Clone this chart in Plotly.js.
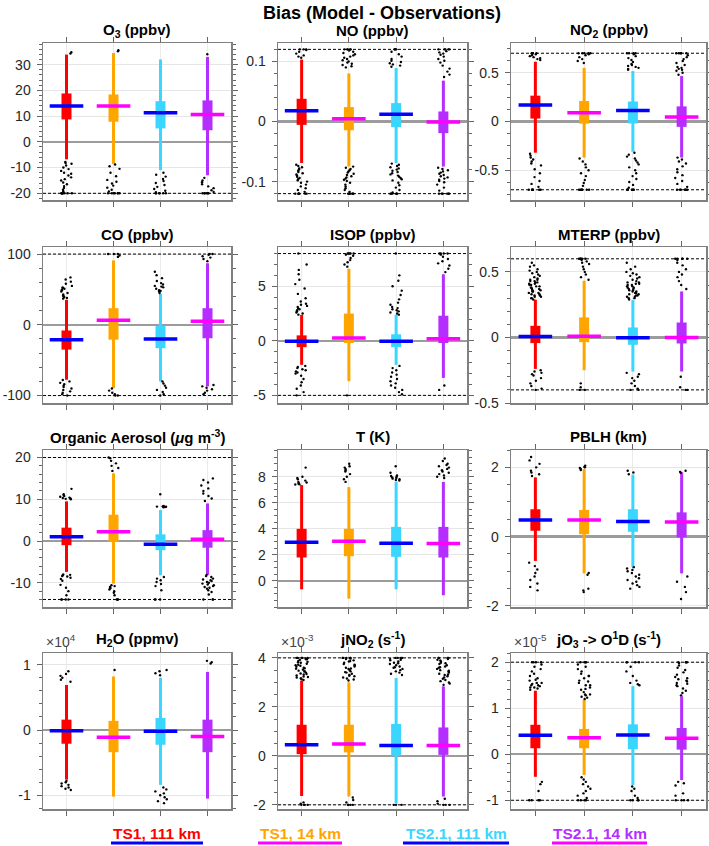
<!DOCTYPE html>
<html><head><meta charset="utf-8">
<script src="https://cdn.plot.ly/plotly-3.0.1.min.js"></script>
<style>html,body{margin:0;padding:0;background:#fff}#chart{width:709px;height:846px}</style>
</head><body><div id="chart"></div>
<script>
// ---------------- DATA ----------------
const models = ['TS1, 111 km', 'TS1, 14 km', 'TS2.1, 111 km', 'TS2.1, 14 km'];
const panelTitles = ['O<sub>3</sub> (ppbv)', 'NO (ppbv)', 'NO<sub>2</sub> (ppbv)',
  'CO (ppbv)', 'ISOP (ppbv)', 'MTERP (ppbv)',
  'Organic Aerosol (<i>μ</i>g m<sup>-3</sup>)', 'T (K)', 'PBLH (km)',
  'H<sub>2</sub>O (ppmv)', 'jNO<sub>2</sub> (s<sup>-1</sup>)', 'jO<sub>3</sub> -> O<sup>1</sup>D (s<sup>-1</sup>)'];
const exponentLabels = [null, null, null, null, null, null, null, null, null,
  '×10<sup>4</sup>', '×10<sup>-3</sup>', '×10<sup>-5</sup>'];
const mainTitle = 'Bias (Model - Observations)';

// per panel, per model: lower whisker, Q1, median, Q3, upper whisker
const whiskerLow = [
  [-6.8, -8.6, -11, -13], [-0.069, -0.075, -0.069, -0.075], [-0.32, -0.37, -0.31, -0.37],
  [-77.6, -89.4, -80, -87], [-2.2, -3.7, -2.2, -3.4], [-0.24, -0.25, -0.26, -0.26],
  [-7.4, -10.2, -8.2, -8.1], [-0.64, -1.36, -0.64, -1.1], [-0.7, -1.06, -0.87, -1.06],
  [-0.76, -1.02, -0.84, -1.05], [-1.64, -1.66, -1.94, -1.66], [-0.49, -0.45, -0.67, -0.56]];
const q1 = [
  [8.7, 7.8, 5.2, 4.5], [-0.0056, -0.0145, -0.0094, -0.0194], [0.03, -0.022, -0.02, -0.055],
  [-35, -21, -33, -19], [-0.58, -0.2, -0.58, -0.2], [-0.043, -0.036, -0.056, -0.046],
  [-1.0, -0.2, -2.2, -1.6], [1.8, 1.9, 1.85, 1.8], [0.17, 0.07, 0.14, -0.02],
  [-0.21, -0.34, -0.226, -0.34], [0.07, 0.14, 0.01, 0.04], [0.13, 0.13, 0.11, 0.1]];
const median = [
  [13.9, 13.9, 11.3, 10.6], [0.0178, 0.0044, 0.0122, -0.001], [0.168, 0.089, 0.113, 0.045],
  [-21, 6.5, -20, 5], [-0.04, 0.25, -0.04, 0.2], [0.008, 0.01, -0.003, 0.0],
  [1.0, 2.2, -0.8, 0.4], [2.97, 3.05, 2.9, 2.87], [0.48, 0.48, 0.44, 0.42],
  [-0.01, -0.11, -0.02, -0.1], [0.45, 0.48, 0.42, 0.42], [0.41, 0.36, 0.42, 0.35]];
const q3 = [
  [18.8, 18.4, 15.8, 16.1], [0.0378, 0.024, 0.0306, 0.0167], [0.265, 0.21, 0.205, 0.155],
  [-8, 23.5, -1.4, 23.5], [0.5, 2.5, 0.6, 2.3], [0.089, 0.153, 0.076, 0.114],
  [3.2, 6.3, 1.6, 2.6], [4.0, 4.0, 4.15, 4.15], [0.79, 0.77, 0.79, 0.7],
  [0.159, 0.14, 0.185, 0.159], [1.27, 1.27, 1.3, 1.16], [0.64, 0.55, 0.65, 0.57]];
const whiskerHigh = [
  [33.9, 34.5, 32, 33], [0.103, 0.08, 0.089, 0.068], [0.613, 0.55, 0.517, 0.466],
  [35.3, 91, 43.8, 87], [2.38, 6.6, 2.4, 6.1], [0.288, 0.433, 0.285, 0.351],
  [9.5, 16.2, 7.4, 9], [7.36, 7.2, 7.6, 7.6], [1.71, 1.95, 1.79, 1.86],
  [0.69, 0.82, 0.8, 0.89], [3.07, 3.0, 3.18, 2.84], [1.38, 1.19, 1.48, 1.26]];

// outliers (values clipped at the dashed limits)
const outO3 = [
  [34.3, 34.8, -7.8, -8.2, -8.5, -9.2, -10, -10.6, -11.3, -12, -12.4, -13.1, -13.8, -14.5, -15, -15.8, -16.5, -17.2, -17.9, -18.6, -19.2, -20, -20, -20, -20, -20, -20, -20, -20],
  [35.2, 35.6, -8.8, -9.5, -10.5, -12, -13.4, -14.8, -15.5, -16.2, -17, -17.8, -18.6, -19.3, -20, -20, -20, -20, -20, -20, -20],
  [-12, -12.8, -13.5, -14.4, -15.2, -16, -16.8, -17.5, -18.3, -19, -19.6, -20, -20, -20, -20, -20, -20],
  [34, -14, -15, -15.7, -16.5, -17.3, -18, -18.8, -19.5, -20, -20, -20, -20, -20, -20]];
const outNO = [
  [0.106, 0.108, 0.11, 0.113, 0.116, 0.119, 0.12, 0.12, 0.12, -0.072, -0.074, -0.076, -0.078, -0.08, -0.082, -0.084, -0.086, -0.088, -0.09, -0.092, -0.094, -0.096, -0.098, -0.1, -0.102, -0.105, -0.108, -0.111, -0.114, -0.117, -0.12, -0.12, -0.12, -0.12, -0.12, -0.12, -0.12],
  [0.09, 0.092, 0.094, 0.096, 0.098, 0.1, 0.102, 0.104, 0.106, 0.108, 0.11, 0.112, 0.114, 0.116, 0.118, 0.12, 0.12, 0.12, 0.12, 0.12, -0.075, -0.077, -0.079, -0.081, -0.083, -0.085, -0.087, -0.089, -0.091, -0.093, -0.095, -0.097, -0.099, -0.102, -0.105, -0.108, -0.111, -0.114, -0.117, -0.12, -0.12, -0.12, -0.12, -0.12, -0.12],
  [0.091, 0.093, 0.095, 0.097, 0.099, 0.101, 0.104, 0.108, 0.112, 0.116, 0.12, 0.12, 0.12, 0.12, -0.07, -0.072, -0.074, -0.076, -0.078, -0.08, -0.082, -0.084, -0.086, -0.088, -0.09, -0.092, -0.094, -0.096, -0.098, -0.102, -0.106, -0.11, -0.114, -0.118, -0.12, -0.12, -0.12, -0.12, -0.12, -0.12],
  [0.074, 0.078, 0.083, 0.088, 0.093, 0.098, 0.101, 0.104, 0.108, 0.111, 0.113, 0.115, 0.117, 0.12, 0.12, 0.12, 0.12, 0.12, -0.077, -0.079, -0.081, -0.083, -0.085, -0.087, -0.089, -0.091, -0.093, -0.095, -0.097, -0.099, -0.101, -0.105, -0.11, -0.115, -0.12, -0.12, -0.12, -0.12, -0.12, -0.12]];
const outNO2 = [
  [0.63, 0.64, 0.65, 0.66, 0.67, 0.68, 0.69, 0.7, 0.7, 0.7, 0.7, 0.7, -0.33, -0.35, -0.37, -0.39, -0.41, -0.43, -0.45, -0.49, -0.53, -0.57, -0.61, -0.64, -0.67, -0.7, -0.7, -0.7, -0.7, -0.7, -0.7, -0.7],
  [0.6, 0.62, 0.64, 0.66, 0.68, 0.69, 0.7, 0.7, 0.7, 0.7, 0.7, -0.38, -0.41, -0.44, -0.47, -0.5, -0.53, -0.56, -0.6, -0.63, -0.66, -0.7, -0.7, -0.7, -0.7, -0.7, -0.7, -0.7],
  [0.53, 0.54, 0.55, 0.56, 0.57, 0.58, 0.59, 0.61, 0.63, 0.65, 0.67, 0.69, 0.7, 0.7, 0.7, 0.7, -0.32, -0.34, -0.36, -0.38, -0.4, -0.42, -0.44, -0.47, -0.5, -0.53, -0.56, -0.59, -0.62, -0.65, -0.68, -0.7, -0.7, -0.7, -0.7, -0.7, -0.7, -0.7],
  [0.48, 0.5, 0.52, 0.53, 0.54, 0.55, 0.56, 0.58, 0.6, 0.62, 0.64, 0.66, 0.68, 0.7, 0.7, 0.7, 0.7, 0.7, -0.37, -0.39, -0.41, -0.43, -0.46, -0.49, -0.52, -0.55, -0.58, -0.61, -0.64, -0.67, -0.7, -0.7, -0.7, -0.7, -0.7, -0.7, -0.7]];
const outCO = [
  [37, 38, 39, 40, 41, 43, 45, 47, 49, 50, 51, 52, 53, 55, 58, 61, 64, 67, -78, -80, -82, -84, -86, -88, -90, -92, -94, -96, -98, -100],
  [96, 98, 100, 100, 100, -90, -93, -96, -98, -100, -100],
  [45, 47, 48, 49, 51, 53, 54, 55, 57, 59, 62, 66, 70, 75, -80, -83, -86, -89, -92, -95, -98, -100],
  [90, 93, 95, 97, 99, 100, 100, -85, -87, -89, -91, -93, -96, -98]];
const outISOP = [
  [2.4, 2.5, 2.6, 2.7, 2.8, 2.9, 3.0, 3.1, 3.2, 3.3, 3.4, 3.6, 3.9, 4.3, 4.8, 5.2, 5.6, 6.1, 6.5, 7.0, 8.0, -2.3, -2.4, -2.5, -2.6, -2.7, -2.8, -2.9, -3.0, -3.2, -3.5, -3.8, -4.1, -4.4, -4.7, -5],
  [6.8, 7.0, 7.2, 7.4, 7.6, 7.8, 7.9, 8, 8, 8, 8, 8, -5],
  [2.4, 2.5, 2.6, 2.7, 2.8, 2.9, 3.0, 3.1, 3.3, 3.5, 3.8, 4.2, 4.6, 5.0, 5.5, 6.0, 8.0, -2.3, -2.5, -2.7, -2.9, -3.1, -3.3, -3.5, -3.7, -3.9, -4.1, -4.3, -4.5, -4.7, -4.9],
  [6.3, 6.6, 6.9, 7.1, 7.3, 7.5, 7.7, 7.9, 8, 8, 8, 8, -4.1, -4.5]];
const outMTERP = [
  [0.29, 0.3, 0.3, 0.31, 0.31, 0.32, 0.32, 0.33, 0.33, 0.34, 0.34, 0.35, 0.35, 0.36, 0.36, 0.37, 0.37, 0.38, 0.38, 0.39, 0.39, 0.4, 0.4, 0.41, 0.41, 0.42, 0.42, 0.43, 0.43, 0.44, 0.44, 0.45, 0.46, 0.47, 0.48, 0.49, 0.5, 0.51, 0.52, 0.54, 0.55, 0.57, -0.25, -0.26, -0.27, -0.28, -0.29, -0.31, -0.33, -0.35, -0.37, -0.39, -0.4],
  [0.44, 0.46, 0.48, 0.5, 0.52, 0.54, 0.56, 0.57, 0.58, 0.59, 0.6, 0.6, 0.6, 0.6, 0.6, -0.35, -0.38, -0.4, -0.4],
  [0.29, 0.3, 0.3, 0.31, 0.31, 0.32, 0.32, 0.33, 0.33, 0.34, 0.34, 0.35, 0.35, 0.36, 0.36, 0.37, 0.37, 0.38, 0.38, 0.39, 0.39, 0.4, 0.4, 0.41, 0.41, 0.42, 0.42, 0.43, 0.44, 0.45, 0.46, 0.47, 0.48, 0.49, 0.5, 0.52, 0.54, 0.57, -0.27, -0.28, -0.3, -0.31, -0.33, -0.35, -0.37, -0.39, -0.4, -0.4],
  [0.37, 0.4, 0.43, 0.46, 0.48, 0.5, 0.52, 0.55, 0.57, 0.59, 0.6, 0.6, 0.6, 0.6, 0.6, -0.3, -0.38, -0.4, -0.4]];
const outOA = [
  [10, 10.1, 10.2, 10.3, 10.4, 10.6, 10.8, 11, 11.2, 12.5, -8, -8.1, -8.2, -8.4, -8.5, -8.8, -9.1, -9.5, -10.5, -11.2, -12, -13, -14, -14, -14, -14],
  [16.8, 17.5, 18, 18.6, 19.2, 19.8, 20, -10.6, -10.8, -11, -11.2, -11.3, -11.6, -12, -12.4, -13, -14, -14, -14],
  [8.1, 8.15, 8.2, 8.25, 8.3, 8.4, 11.2, -8.6, -9, -9.4, -9.8, -10.3, -10.8, -11.8, -14, -14, -14],
  [9.6, 10.2, 10.8, 11.4, 12, 12.6, 13.3, 14, 14.6, 15, -8.1, -8.4, -8.6, -9, -9.2, -9.4, -9.6, -9.8, -10, -10.2, -10.4, -10.6, -10.8, -11, -11.2, -11.4, -11.8, -12.2, -12.8, -14, -14, -14]];
const outT = [
  [7.4, 7.42, 7.45, 7.5, 7.55, 7.6, 7.7, 7.8, 7.9, 8.0, 8.7],
  [7.6, 7.8, 8.0, 8.2, 8.4, 8.5, 8.6, 8.7, 8.8, 9.0],
  [7.7, 7.75, 7.8, 7.85, 7.9, 7.95, 8.0, 8.05, 8.1, 8.3, 8.8],
  [7.9, 8.0, 8.1, 8.2, 8.3, 8.4, 8.5, 8.6, 8.7, 8.8, 8.9, 9.0, 9.2, 9.4]];
const outPBLH = [
  [1.75, 1.8, 1.85, 1.9, 2.0, 2.1, 2.2, 2.3, -0.75, -0.85, -0.95, -1.05, -1.15, -1.25, -1.35, -1.45, -1.55],
  [1.92, 1.95, 1.98, 2.0, 2.02, 2.05, -1.05, -1.1, -1.5, -1.55, -1.6],
  [1.8, 1.85, 1.9, -0.88, -0.92, -0.96, -1.0, -1.05, -1.1, -1.15, -1.2, -1.25, -1.3, -1.35, -1.4, -1.45, -1.5],
  [1.84, 1.87, 1.9, -1.15, -1.3, -1.45, -1.6, -1.8]];
const outH2O = [
  [0.74, 0.77, 0.8, 0.83, 0.86, 0.9, -0.78, -0.8, -0.82, -0.84, -0.86, -0.88, -0.9, -0.92],
  [0.92],
  [0.84, 0.87, 0.9, 0.92, -0.88, -0.91, -0.94, -0.97, -1.0, -1.03, -1.06, -1.09, -1.12],
  [1.02, 1.04, 1.06]];
const outJNO2 = [
  [3.1, 3.13, 3.17, 3.2, 3.24, 3.28, 3.32, 3.36, 3.4, 3.44, 3.48, 3.52, 3.56, 3.6, 3.64, 3.68, 3.72, 3.76, 3.8, 3.84, 3.88, 3.92, 3.96, 4, 4, 4, 4, 4, 3.22, 3.34, 3.46, 3.58, 3.7, 3.82, 3.94, 3.98, -1.9, -1.95, -2, -2, -2, -2],
  [3.08, 3.12, 3.16, 3.2, 3.25, 3.3, 3.35, 3.4, 3.45, 3.5, 3.55, 3.6, 3.65, 3.7, 3.75, 3.8, 3.85, 3.9, 3.95, 4, 4, 4, 4, 4, 3.27, 3.42, 3.57, 3.72, 3.87, 3.97, -1.7, -1.8, -1.9, -2, -2, -2, -2],
  [3.3, 3.35, 3.4, 3.45, 3.5, 3.55, 3.6, 3.65, 3.7, 3.75, 3.8, 3.85, 3.9, 3.95, 4, 4, 4, 4, 3.62, 3.78, 3.92, -2, -2, -2],
  [2.9, 2.95, 3.0, 3.05, 3.1, 3.15, 3.2, 3.25, 3.3, 3.35, 3.4, 3.45, 3.5, 3.55, 3.6, 3.65, 3.7, 3.75, 3.8, 3.85, 3.9, 3.95, 4, 4, 4, 4, 3.32, 3.48, 3.62, 3.78, 3.92, -1.75, -1.85, -1.95, -2, -2, -2]];
const outJO3 = [
  [1.4, 1.43, 1.45, 1.48, 1.5, 1.53, 1.55, 1.6, 1.65, 1.7, 1.75, 1.8, 1.85, 1.9, 1.95, 2, 2, 2, 2, 1.45, 1.5, 1.55, 1.62, -0.6, -0.65, -0.8, -1, -1, -1, -1],
  [1.2, 1.23, 1.25, 1.28, 1.3, 1.35, 1.4, 1.45, 1.5, 1.55, 1.6, 1.65, 1.7, 1.75, 1.8, 1.85, 1.9, 1.95, 2, 2, 2, 2, 1.3, 1.42, 1.5, 1.58, 1.7, -0.5, -0.55, -0.6, -0.65, -0.7, -0.75, -0.8, -0.85, -0.9, -0.95, -1, -1, -1, -1],
  [1.5, 1.55, 1.6, 1.7, 1.8, 1.9, 2, 2, 2, 2, 1.52, -0.7, -0.75, -0.8, -0.9, -0.95, -1, -1, -1, -1],
  [1.28, 1.33, 1.38, 1.43, 1.48, 1.53, 1.58, 1.63, 1.68, 1.73, 1.78, 1.83, 1.88, 1.93, 1.98, 2, 2, 2, 2, 1.5, 1.55, 1.6, 1.65, -0.6, -0.63, -0.68, -0.85, -0.9, -1, -1, -1, -1]];
const outliers = [outO3, outNO, outNO2, outCO, outISOP, outMTERP, outOA, outT, outPBLH, outH2O, outJNO2, outJO3];

// dashed clipping limits
const limits = [[-20], [0.12, -0.12], [0.7, -0.7], [100, -100], [8, -5], [0.6, -0.4],
  [20, -14], [], [], [], [4, -2], [2, -1]];

// y axes
const yRanges = [[-22.6, 38.4], [-0.1306, 0.1306], [-0.805, 0.805], [-110.5, 110], [-5.7, 8.6], [-0.5, 0.69],
  [-15.8, 21.8], [-2, 10.05], [-2.03, 2.5], [-1.21, 1.18], [-2.17, 4.2], [-1.19, 2.2]];
const tickVals = [[-20, -10, 0, 10, 20, 30], [-0.1, 0, 0.1], [-0.5, 0, 0.5], [-100, 0, 100], [-5, 0, 5], [-0.5, 0, 0.5],
  [-10, 0, 10, 20], [0, 2, 4, 6, 8], [-2, 0, 2], [-1, 0, 1], [-2, 0, 2, 4], [-1, 0, 1, 2]];
const tickText = [['-20', '-10', '0', '10', '20', '30'], ['-0.1', '0', '0.1'], ['-0.5', '0', '0.5'], ['-100', '0', '100'],
  ['-5', '0', '5'], ['-0.5', '0', '0.5'], ['-10', '0', '10', '20'], ['0', '2', '4', '6', '8'], ['-2', '0', '2'],
  ['-1', '0', '1'], ['-2', '0', '2', '4'], ['-1', '0', '1', '2']];
const minorStep = [2, 0.02, 0.125, 20, 1, 0.1, 2, 0.5, 0.5, 0.2, 0.5, 0.2];

// ---------------- STYLE ----------------
const boxColors = ['#ff0000', '#ffa500', '#3ad6ff', '#b52dff'];
const medColors = ['#0000ff', '#ff00ff', '#0000ff', '#ff00ff'];
const FONT = 'Liberation Sans, Arial, Helvetica, sans-serif';
const W = 709, H = 846;
const colPx = [[43, 231], [278, 467], [511, 706]];
const rowPx = [[43, 200], [247, 403], [450, 607], [653, 809]];
const titlePx = [30, 234, 436, 639];
const xpos = [1, 2, 3, 4];
// deterministic horizontal jitter for the outlier dots (display only)
function jitter(j, k) {
  const s = Math.sin(j * 12.9898 + k * 78.233 + 1.7) * 43758.5453;
  return (s - Math.floor(s) - 0.5) * 0.27;
}

const traces = [];
const layout = {
  width: W, height: H, margin: {l: 0, r: 0, t: 0, b: 0},
  paper_bgcolor: '#fff', plot_bgcolor: '#fff', showlegend: false,
  font: {family: FONT, size: 14, color: '#262626'},
  annotations: [], shapes: []
};

for (let i = 0; i < 12; i++) {
  const n = i + 1;
  const xa = 'x' + (n > 1 ? n : ''), ya = 'y' + (n > 1 ? n : '');
  const col = i % 3, row = Math.floor(i / 3);
  const dx = [colPx[col][0] / W, colPx[col][1] / W];
  const dy = [1 - rowPx[row][1] / H, 1 - rowPx[row][0] / H];

  layout['xaxis' + (n > 1 ? n : '')] = {
    domain: dx, anchor: ya, range: [0.5, 4.5], tickmode: 'array', tickvals: xpos,
    showticklabels: false, ticks: 'outside', ticklen: 5, tickwidth: 1, tickcolor: '#666',
    showline: true, linecolor: '#808080', linewidth: 1.5, mirror: 'allticks',
    showgrid: true, gridcolor: '#ebebeb', gridwidth: 1, zeroline: false, fixedrange: true
  };
  layout['yaxis' + (n > 1 ? n : '')] = {
    domain: dy, anchor: xa, range: yRanges[i], tickmode: 'array', tickvals: tickVals[i], ticktext: tickText[i],
    ticks: 'outside', ticklen: 5, tickwidth: 1, tickcolor: '#666', ticklabelstandoff: 3,
    minor: {tickmode: 'linear', tick0: 0, dtick: minorStep[i], ticks: 'outside', ticklen: 3, tickcolor: '#666', showgrid: false},
    showline: true, linecolor: '#808080', linewidth: 1.5, mirror: 'allticks',
    showgrid: true, gridcolor: '#e6e6e6', gridwidth: 1,
    zeroline: true, zerolinecolor: '#9c9c9c', zerolinewidth: 2.5,
    tickfont: {family: FONT, size: 14, color: '#262626'}, fixedrange: true
  };

  for (let k = 0; k < 4; k++) {
    // whisker
    traces.push({type: 'scatter', mode: 'lines', x: [xpos[k], xpos[k]], y: [whiskerLow[i][k], whiskerHigh[i][k]],
      line: {color: boxColors[k], width: 3}, xaxis: xa, yaxis: ya, hoverinfo: 'skip'});
    // box (interquartile range)
    traces.push({type: 'scatter', mode: 'lines', x: [xpos[k], xpos[k]], y: [q1[i][k], q3[i][k]],
      line: {color: boxColors[k], width: 10}, xaxis: xa, yaxis: ya, hoverinfo: 'skip'});
  }
  // medians
  traces.push({type: 'scatter', mode: 'markers', x: xpos, y: median[i], xaxis: xa, yaxis: ya, hoverinfo: 'skip',
    marker: {symbol: 'line-ew', size: 24, line: {width: 3.5, color: medColors}}, cliponaxis: false});
  // outliers
  const ox = [], oy = [];
  outliers[i].forEach((arr, k) => arr.forEach((v, j) => {
    ox.push(xpos[k] + jitter(j + 5 * i, k));
    oy.push(v);
  }));
  traces.push({type: 'scatter', mode: 'markers', x: ox, y: oy, xaxis: xa, yaxis: ya, hoverinfo: 'skip',
    marker: {color: '#000', size: 2.4, line: {width: 0}}, cliponaxis: false});

  // dashed limit lines
  limits[i].forEach(v => layout.shapes.push({type: 'line', xref: 'paper', x0: dx[0], x1: dx[1], yref: ya, y0: v, y1: v,
    line: {color: '#000', width: 1, dash: '3px,2px'}, layer: 'above'}));

  // panel title
  layout.annotations.push({text: '<b>' + panelTitles[i] + '</b>', xref: 'paper', yref: 'paper',
    x: (dx[0] + dx[1]) / 2, y: 1 - titlePx[row] / H, xanchor: 'center', yanchor: 'middle', showarrow: false,
    font: {family: FONT, size: 15, color: '#000'}});
  if (exponentLabels[i]) {
    layout.annotations.push({text: exponentLabels[i], xref: 'paper', yref: 'paper',
      x: dx[0] + 1 / W, y: dy[1] + 1 / H, xanchor: 'left', yanchor: 'bottom', showarrow: false,
      font: {family: FONT, size: 14, color: '#444'}});
  }
}

layout.annotations.push({text: '<b>' + mainTitle + '</b>', xref: 'paper', yref: 'paper', x: 382 / W, y: 1 - 13 / H,
  xanchor: 'center', yanchor: 'middle', showarrow: false, font: {family: FONT, size: 18, color: '#000'}});

// legend-like labels
const legendPx = [[111, 203], [258, 342], [403, 509], [552, 647]];
models.forEach((m, k) => {
  const c = (legendPx[k][0] + legendPx[k][1]) / 2;
  layout.annotations.push({text: '<b>' + m + '</b>', xref: 'paper', yref: 'paper', x: c / W, y: 1 - 833 / H,
    xanchor: 'center', yanchor: 'middle', showarrow: false,
    font: {family: FONT, size: 15.5, color: boxColors[k]}});
  layout.shapes.push({type: 'line', xref: 'paper', yref: 'paper', x0: legendPx[k][0] / W, x1: legendPx[k][1] / W,
    y0: 1 - 843 / H, y1: 1 - 843 / H, line: {color: medColors[k], width: 3}});
});

Plotly.newPlot('chart', traces, layout, {displayModeBar: false, staticPlot: true});
</script></body></html>
